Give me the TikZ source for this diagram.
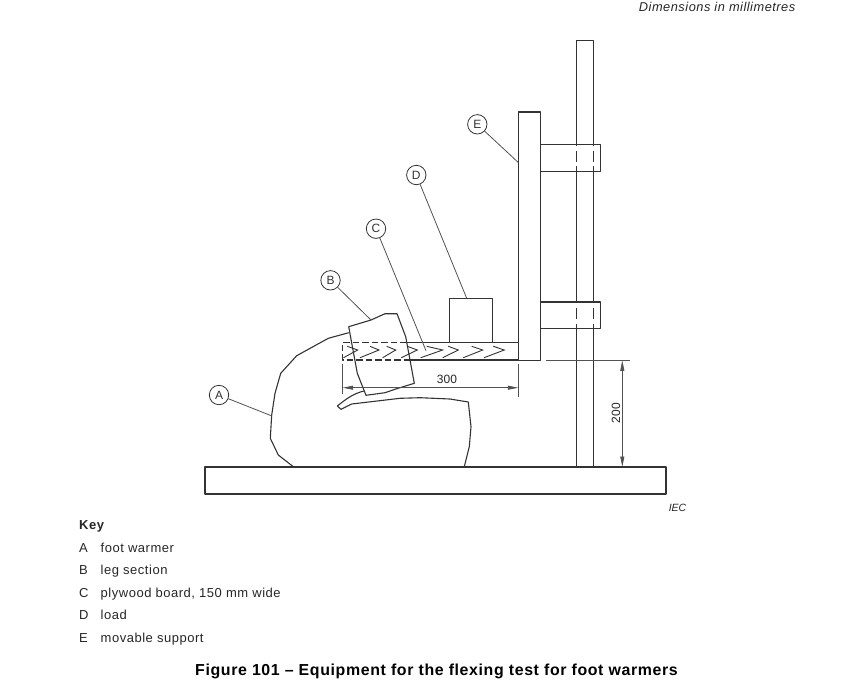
\documentclass[tikz,border=0pt]{standalone}
\usepackage{fontspec}
\setmainfont{Liberation Sans}
\newfontfamily\spaced[LetterSpace=4]{Liberation Sans}
\usetikzlibrary{arrows.meta}
\definecolor{ink}{gray}{0.2}
\tikzset{
  x=1pt,y=-1pt,
  part/.style={draw=ink,line width=1.1pt,line join=round},
  leader/.style={draw=ink!85,line width=0.8pt},
  dim/.style={draw=ink!85,line width=0.8pt},
  dimarrow/.style={dim,{Triangle[length=10.5pt,width=4pt]}-{Triangle[length=10.5pt,width=4pt]}},
  tag/.style={circle,draw=ink,line width=0.8pt,minimum size=19.4pt,inner sep=0pt,font=\fontsize{12}{14}\selectfont,text=ink},
  keytext/.style={anchor=base west,inner sep=0pt,font=\spaced\fontsize{13}{15}\selectfont,text=black!85},
  keytitle/.style={anchor=base west,inner sep=0pt,font=\spaced\bfseries\fontsize{13}{15}\selectfont,text=black!85},
  dimtext/.style={inner sep=0pt,font=\fontsize{12}{14}\selectfont,text=black!85},
  chev/.style={draw=ink,line width=0.9pt},
  gap/.style={draw=white,line width=1.8pt},
}
\begin{document}
\begin{tikzpicture}
\useasboundingbox (0,0) rectangle (864,681);

% header
\node[anchor=base east,inner sep=0pt,font=\spaced\itshape\fontsize{12.8}{15}\selectfont,text=black!85] (hdr) at (795.5,11) {Dimensions in millimetres};

% base, pole, load
\path[part] (205,467) rectangle (666,494);
\path[part] (576.8,40.7) rectangle (593.3,467);
\path[part] (449.3,298.3) rectangle (492.7,342.3);

% clamps
\foreach \ytop/\ybot in {144.7/171.3,302/328.7}{
  \foreach \xp in {576.8,593.3}{
    \draw[gap] (\xp,\ytop+1.2) -- (\xp,\ytop+6);
    \draw[gap] (\xp,\ytop+17) -- (\xp,\ytop+21.5);
  }
  \path[part] (540.7,\ytop) rectangle (600.7,\ybot);
}

% foot warmer
\path[part] (348.7,332.7) -- (328.3,338.3) -- (296.7,355.7) -- (280.7,373.3) -- (275,393.3)
  -- (271.7,415) -- (270.3,438.3) -- (278.3,455) -- (293.3,466.7);
\path[part] (464.3,466.7) -- (469.3,446.7) -- (471,426.7) -- (468.3,402) -- (450,399)
  -- (420,397.7) -- (400,398.3) -- (351.7,404) -- (341,409.3) -- (337.3,406)
  .. controls (345,400) and (352,394) .. (363.8,391);

% board
\draw[part] (406.7,342.3) -- (518.5,342.3);
\draw[part] (410,360) -- (518.5,360);
\draw[part,dash pattern=on 6.5pt off 3pt] (406.7,342.3) -- (342.7,342.3) -- (342.7,360) -- (410,360);

% chevrons
\foreach \up/\tip/\lo in {347.3/357.7/343.5,370/379/360,386.7/395.7/382.7,407.3/417.3/401.3,426.7/442.7/420.7,448.3/458.3/442.7,471.7/482.7/463.3,493.3/504.3/484}{
  \draw[chev] (\up,346.3) -- (\tip,350) -- (\lo,357.7);
}

% leg section
\path[part] (348.7,326.7) -- (371,320) -- (385,313.7) -- (397,313.7) -- (405.7,336.7) -- (414.3,383.3)
  -- (396.7,388.7) -- (385,392.7) -- (366,395.3) -- (357.3,373.3) -- (353.3,351.7) -- cycle;

% movable support
\path[part] (518.5,112) rectangle (540.7,360.3);

% dimensions
\coordinate (l1) at (342.7,364);
\coordinate (l2) at (342.7,394);
\coordinate (r1) at (518.3,364);
\coordinate (r2) at (518.3,396.7);
\coordinate (d1) at (342.7,387.7);
\coordinate (d2) at (518.3,387.7);
\draw[dim] (l1) -- (l2);
\draw[dim] (r1) -- (r2);
\draw[dimarrow] (d1) -- (d2);
\node[dimtext] (t300) at (447,379.3) {300};

\coordinate (e1) at (546,360.3);
\coordinate (e2) at (630,360.3);
\coordinate (v1) at (622.3,360.3);
\coordinate (v2) at (622.3,467);
\draw[dim] (e1) -- (e2);
\draw[dimarrow] (v1) -- (v2);
\node[dimtext,rotate=90] (t200) at (616,413) {200};

% tags and leaders
\node[tag] (A) at (219,395) {A};
\node[tag] (B) at (330.5,280.3) {B};
\node[tag] (C) at (376,228.7) {C};
\node[tag] (D) at (416.3,175) {D};
\node[tag] (E) at (477.3,124.3) {E};
\coordinate (a) at (272,416);
\coordinate (b) at (371,320);
\coordinate (c) at (426,350.7);
\coordinate (d) at (466.7,298.3);
\coordinate (e) at (518.5,162.7);
\draw[leader] (A) -- (a);
\draw[leader] (B) -- (b);
\draw[leader] (C) -- (c);
\draw[leader] (D) -- (d);
\draw[leader] (E) -- (e);

\node[anchor=base,inner sep=0pt,font=\itshape\fontsize{10.5}{12}\selectfont,text=black!85] (iec) at (677.5,511) {IEC};

% key
\node[keytitle] (key) at (79,529) {Key};
\node[keytext] (ka) at (79,552) {A};
\node[keytext] (ta) at (100.5,552) {foot warmer};
\node[keytext] (kb) at (79,574.5) {B};
\node[keytext] (tb) at (100.5,574.5) {leg section};
\node[keytext] (kc) at (79,597) {C};
\node[keytext] (tc) at (100.5,597) {plywood board, 150 mm wide};
\node[keytext] (kd) at (79,619.5) {D};
\node[keytext] (td) at (100.5,619.5) {load};
\node[keytext] (ke) at (79,642) {E};
\node[keytext] (te) at (100.5,642) {movable support};

\node[anchor=base,inner sep=0pt,font=\spaced\bfseries\fontsize{15.9}{18}\selectfont,text=black] (title) at (436.5,675) {Figure 101 – Equipment for the flexing test for foot warmers};
\end{tikzpicture}
\end{document}
